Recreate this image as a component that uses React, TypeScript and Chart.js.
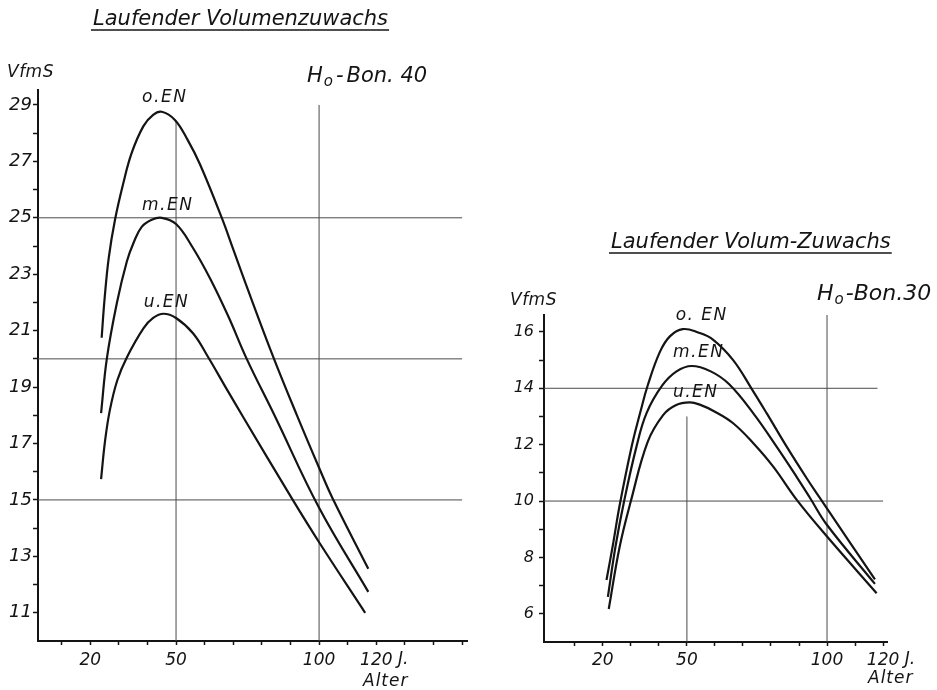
import React, { useEffect, useRef } from "react";
import { Chart, registerables } from "chart.js";

Chart.register(...registerables);

// ---------- Left panel: Laufender Volumenzuwachs (H0-Bon. 40) ----------
const leftAgeO = [24.0, 25.0, 26.5, 28.7, 31.5, 34.5, 38.6, 42.0, 45.0, 49.6, 54.0, 58.4, 66.1, 70.0, 74.4, 83.9, 92.3, 100.0, 104.7, 117.2];
const leftVolO = [20.75, 22.1, 23.6, 24.95, 26.2, 27.3, 28.25, 28.65, 28.76, 28.47, 27.77, 26.89, 24.97, 23.88, 22.65, 20.09, 17.99, 16.14, 15.06, 12.56];
const leftAgeM = [23.8, 25.8, 29.3, 32.8, 35.3, 38.0, 41.5, 45.0, 50.0, 55.5, 61.9, 68.3, 74.7, 84.4, 100.0, 117.2];
const leftVolM = [18.08, 20.0, 21.97, 23.45, 24.15, 24.68, 24.93, 25.0, 24.78, 24.0, 22.85, 21.5, 20.0, 18.0, 14.72, 11.74];
const leftAgeU = [23.8, 25.2, 26.9, 29.5, 32.8, 38.6, 42.0, 45.6, 50.0, 56.0, 61.3, 67.3, 73.4, 90.8, 100.0, 116.1];
const leftVolU = [15.74, 17.1, 18.2, 19.25, 20.05, 21.08, 21.45, 21.6, 21.45, 20.9, 20.05, 19.0, 17.95, 15.0, 13.5, 11.0];
const leftGuideVol = [25, 20, 15];
const leftGuideVolEnd = [150, 150, 150];
const leftGuideAge = [50, 100];
const leftGuideAgeTop = [28.45, 29];
const leftAgeLabels = [20, 50, 100, 120];
const leftVolLabels = [11, 13, 15, 17, 19, 21, 23, 25, 27, 29];

// ---------- Right panel: Laufender Volum-Zuwachs (H0-Bon. 30) ----------
const rightAgeO = [21.3, 23.6, 26.0, 30.2, 33.5, 36.0, 40.4, 44.0, 48.5, 54.0, 59.4, 66.5, 73.0, 78.5, 85.6, 92.8, 97.5, 100.5, 117.1];
const rightVolO = [7.2, 8.45, 9.85, 11.9, 13.2, 14.1, 15.3, 15.85, 16.1, 15.98, 15.72, 15.0, 14.0, 13.11, 11.93, 10.8, 10.1, 9.66, 7.22];
const rightAgeM = [21.8, 24.5, 27.6, 32.0, 35.6, 41.2, 46.3, 51.7, 58.5, 65.0, 73.7, 82.0, 89.2, 94.0, 100.0, 117.1];
const rightVolM = [6.6, 8.38, 10.0, 11.93, 13.12, 14.1, 14.6, 14.79, 14.6, 14.15, 13.11, 11.93, 10.85, 10.1, 9.15, 7.06];
const rightAgeU = [22.1, 26.0, 30.0, 36.0, 41.5, 46.0, 51.0, 54.6, 60.0, 66.5, 73.7, 80.8, 89.2, 100.0, 117.7];
const rightVolU = [6.17, 8.38, 10.0, 12.1, 13.05, 13.4, 13.5, 13.42, 13.17, 12.76, 12.05, 11.22, 10.04, 8.74, 6.73];
const rightGuideVol = [14, 10];
const rightGuideVolEnd = [118, 120];
const rightGuideAge = [50, 100];
const rightGuideAgeTop = [13.0, 16.6];
const rightAgeLabels = [20, 50, 100, 120];
const rightVolLabels = [6, 8, 10, 12, 14, 16];

const FAMILY = '"DejaVu Sans", "Liberation Sans", sans-serif';
const INK = "#141414";

const range = (a: number, b: number, step: number) => {
  const out: number[] = [];
  for (let v = a; v <= b + 1e-9; v += step) out.push(v);
  return out;
};

type Part = { text: string; size: number; dy?: number; gap?: number };
type TextItem = { parts: Part[]; x: number; y: number; underline?: number; spacing?: number };
type CurveLabel = { ds: number; text: string; dx: number; dy: number; size: number };

type Panel = {
  series: { ages: number[]; vols: number[] }[];
  guideVol: number[];
  guideVolEnd: number[];
  guideAge: number[];
  guideAgeTop: number[];
  ageLabels: number[];
  volLabels: number[];
  xTicks: number[];
  yTicks: number[];
  xMin: number;
  xMax: number;
  yMin: number;
  yMax: number;
  yAxisWidth: number;
  xAxisHeight: number;
  padTop: number;
  padRight: number;
  yTickSize: number;
  xTickSize: number;
  yTickPad: number;
  xTickPad: number;
  texts: TextItem[];
  curveLabels: CurveLabel[];
  suffixValue: number;
};

const decorPlugin = {
  id: "decor",
  afterDraw(chart: any, _args: any, opts: any) {
    const ctx: CanvasRenderingContext2D = chart.ctx;
    ctx.save();
    ctx.fillStyle = INK;
    ctx.strokeStyle = INK;
    ctx.textAlign = "left";
    ctx.textBaseline = "alphabetic";
    for (const item of (opts.texts || []) as TextItem[]) {
      let x = item.x;
      (ctx as any).letterSpacing = (item.spacing ?? 0) + "px";
      for (const p of item.parts) {
        ctx.font = `italic ${p.size}px ${FAMILY}`;
        x += p.gap ?? 0;
        ctx.fillText(p.text, x, item.y + (p.dy ?? 0));
        x += ctx.measureText(p.text).width;
      }
      if (item.underline) {
        ctx.lineWidth = 1.6;
        ctx.beginPath();
        ctx.moveTo(item.x - 2, item.y + item.underline);
        ctx.lineTo(x + 1, item.y + item.underline);
        ctx.stroke();
      }
    }
    (ctx as any).letterSpacing = "1.5px";
    ctx.textAlign = "center";
    for (const cl of (opts.curveLabels || []) as CurveLabel[]) {
      const data = chart.data.datasets[cl.ds].data as { x: number; y: number }[];
      let peak = data[0];
      for (const d of data) if (d.y > peak.y) peak = d;
      const px = chart.scales.x.getPixelForValue(peak.x) + cl.dx;
      const py = chart.scales.y.getPixelForValue(peak.y) - cl.dy;
      ctx.font = `italic ${cl.size}px ${FAMILY}`;
      ctx.fillText(cl.text, px, py);
    }
    if (opts.suffixValue != null) {
      (ctx as any).letterSpacing = "0px";
      const xs = chart.scales.x;
      ctx.font = `italic ${opts.xTickSize}px ${FAMILY}`;
      const w = ctx.measureText(String(opts.suffixValue)).width;
      const px = xs.getPixelForValue(opts.suffixValue) + w / 2;
      ctx.textAlign = "left";
      ctx.textBaseline = "top";
      ctx.fillText(" J.", px, chart.chartArea.bottom + 4 + opts.xTickPad + 1);
    }
    ctx.restore();
  },
};

function buildConfig(p: Panel): any {
  const datasets: any[] = [];
  p.series.forEach((s) => {
    datasets.push({
      data: s.ages.map((a, i) => ({ x: a, y: s.vols[i] })),
      borderColor: INK,
      borderWidth: 2.2,
      pointRadius: 0,
      tension: 0.4,
      fill: false,
    });
  });
  p.guideVol.forEach((v, i) => {
    datasets.push({
      data: [
        { x: p.xMin, y: v },
        { x: p.guideVolEnd[i], y: v },
      ],
      borderColor: "#4a4a4a",
      borderWidth: 1,
      pointRadius: 0,
      tension: 0,
    });
  });
  p.guideAge.forEach((v, i) => {
    datasets.push({
      data: [
        { x: v, y: p.yMin },
        { x: v, y: p.guideAgeTop[i] },
      ],
      borderColor: "#4a4a4a",
      borderWidth: 1,
      pointRadius: 0,
      tension: 0,
    });
  });

  return {
    type: "line",
    data: { datasets },
    plugins: [decorPlugin],
    options: {
      responsive: false,
      animation: false,
      events: [],
      layout: { padding: { left: 0, right: p.padRight, top: p.padTop, bottom: 0 } },
      plugins: {
        legend: { display: false },
        tooltip: { enabled: false },
        title: { display: false },
        decor: {
          texts: p.texts,
          curveLabels: p.curveLabels,
          suffixValue: p.suffixValue,
          xTickSize: p.xTickSize,
          xTickPad: p.xTickPad,
        },
      },
      scales: {
        x: {
          type: "linear",
          min: p.xMin,
          max: p.xMax,
          afterBuildTicks: (s: any) => {
            s.ticks = p.xTicks.map((v) => ({ value: v }));
          },
          afterFit: (s: any) => {
            s.height = p.xAxisHeight;
          },
          border: { display: true, color: INK, width: 2 },
          grid: {
            drawOnChartArea: false,
            drawTicks: true,
            tickLength: 4,
            tickWidth: 1.5,
            tickColor: INK,
          },
          ticks: {
            autoSkip: false,
            maxRotation: 0,
            minRotation: 0,
            padding: p.xTickPad,
            color: INK,
            font: { family: FAMILY, size: p.xTickSize, style: "italic" },
            callback: (v: any) => {
              const n = Math.round(Number(v));
              return p.ageLabels.includes(n) ? String(n) : "";
            },
          },
        },
        y: {
          type: "linear",
          min: p.yMin,
          max: p.yMax,
          afterBuildTicks: (s: any) => {
            s.ticks = p.yTicks.map((v) => ({ value: v }));
          },
          afterFit: (s: any) => {
            s.width = p.yAxisWidth;
          },
          border: { display: true, color: INK, width: 2 },
          grid: {
            drawOnChartArea: false,
            drawTicks: true,
            tickLength: 5,
            tickWidth: 1.5,
            tickColor: INK,
          },
          ticks: {
            autoSkip: false,
            padding: p.yTickPad,
            color: INK,
            font: { family: FAMILY, size: p.yTickSize, style: "italic" },
            callback: (v: any) => {
              const n = Math.round(Number(v));
              return p.volLabels.includes(n) ? String(n) : "";
            },
          },
        },
      },
    },
  };
}

const leftPanel: Panel = {
  series: [
    { ages: leftAgeO, vols: leftVolO },
    { ages: leftAgeM, vols: leftVolM },
    { ages: leftAgeU, vols: leftVolU },
  ],
  guideVol: leftGuideVol,
  guideVolEnd: leftGuideVolEnd,
  guideAge: leftGuideAge,
  guideAgeTop: leftGuideAgeTop,
  ageLabels: leftAgeLabels,
  volLabels: leftVolLabels,
  xTicks: range(10, 150, 10),
  yTicks: range(11, 29, 1),
  xMin: 1.75,
  xMax: 151.7,
  yMin: 10,
  yMax: 29.53,
  yAxisWidth: 38,
  xAxisHeight: 49,
  padTop: 90,
  padRight: 13,
  yTickSize: 18,
  xTickSize: 17,
  yTickPad: 1,
  xTickPad: 5,
  texts: [
    { parts: [{ text: "Laufender Volumenzuwachs", size: 21 }], x: 93, y: 25, underline: 5 },
    { parts: [{ text: "VfmS", size: 17 }], x: 7, y: 77, spacing: 0.5 },
    {
      parts: [
        { text: "H", size: 21 },
        { text: "o", size: 15, dy: 4, gap: 1 },
        { text: "-", size: 21, gap: 3 },
        { text: "Bon. 40", size: 21, gap: 3 },
      ],
      x: 307,
      y: 82,
    },
    { parts: [{ text: "Alter", size: 17 }], x: 363, y: 686, spacing: 1 },
  ],
  curveLabels: [
    { ds: 0, text: "o.EN", dx: 3, dy: 10, size: 17 },
    { ds: 1, text: "m.EN", dx: 6, dy: 8, size: 17 },
    { ds: 2, text: "u.EN", dx: 3, dy: 7, size: 17 },
  ],
  suffixValue: 120,
};

const rightPanel: Panel = {
  series: [
    { ages: rightAgeO, vols: rightVolO },
    { ages: rightAgeM, vols: rightVolM },
    { ages: rightAgeU, vols: rightVolU },
  ],
  guideVol: rightGuideVol,
  guideVolEnd: rightGuideVolEnd,
  guideAge: rightGuideAge,
  guideAgeTop: rightGuideAgeTop,
  ageLabels: rightAgeLabels,
  volLabels: rightVolLabels,
  xTicks: range(10, 120, 10),
  yTicks: range(6, 16, 1),
  xMin: -1,
  xMax: 121.4,
  yMin: 5,
  yMax: 16.6,
  yAxisWidth: 64,
  xAxisHeight: 48,
  padTop: 315,
  padRight: 50,
  yTickSize: 16,
  xTickSize: 17,
  yTickPad: 5,
  xTickPad: 4,
  texts: [
    { parts: [{ text: "Laufender Volum-Zuwachs", size: 21 }], x: 131, y: 248, underline: 5 },
    { parts: [{ text: "VfmS", size: 17 }], x: 30, y: 305, spacing: 0.5 },
    {
      parts: [
        { text: "H", size: 22 },
        { text: "o", size: 15, dy: 4, gap: 1 },
        { text: "-Bon.30", size: 22, gap: 2 },
      ],
      x: 337,
      y: 300,
    },
    { parts: [{ text: "Alter", size: 17 }], x: 388, y: 683, spacing: 1 },
  ],
  curveLabels: [
    { ds: 0, text: "o. EN", dx: 19, dy: 9, size: 17 },
    { ds: 1, text: "m.EN", dx: 7, dy: 9, size: 17 },
    { ds: 2, text: "u.EN", dx: 6, dy: 5, size: 17 },
  ],
  suffixValue: 120,
};

export default function App() {
  const leftRef = useRef<HTMLCanvasElement>(null);
  const rightRef = useRef<HTMLCanvasElement>(null);

  useEffect(() => {
    document.body.style.margin = "0";
    const c1 = new Chart(leftRef.current as HTMLCanvasElement, buildConfig(leftPanel));
    const c2 = new Chart(rightRef.current as HTMLCanvasElement, buildConfig(rightPanel));
    return () => {
      c1.destroy();
      c2.destroy();
    };
  }, []);

  return (
    <div style={{ position: "absolute", left: 0, top: 0, width: 937, height: 690, background: "#fff" }}>
      <canvas ref={leftRef} width={480} height={690} style={{ position: "absolute", left: 0, top: 0 }} />
      <canvas ref={rightRef} width={457} height={690} style={{ position: "absolute", left: 480, top: 0 }} />
    </div>
  );
}
